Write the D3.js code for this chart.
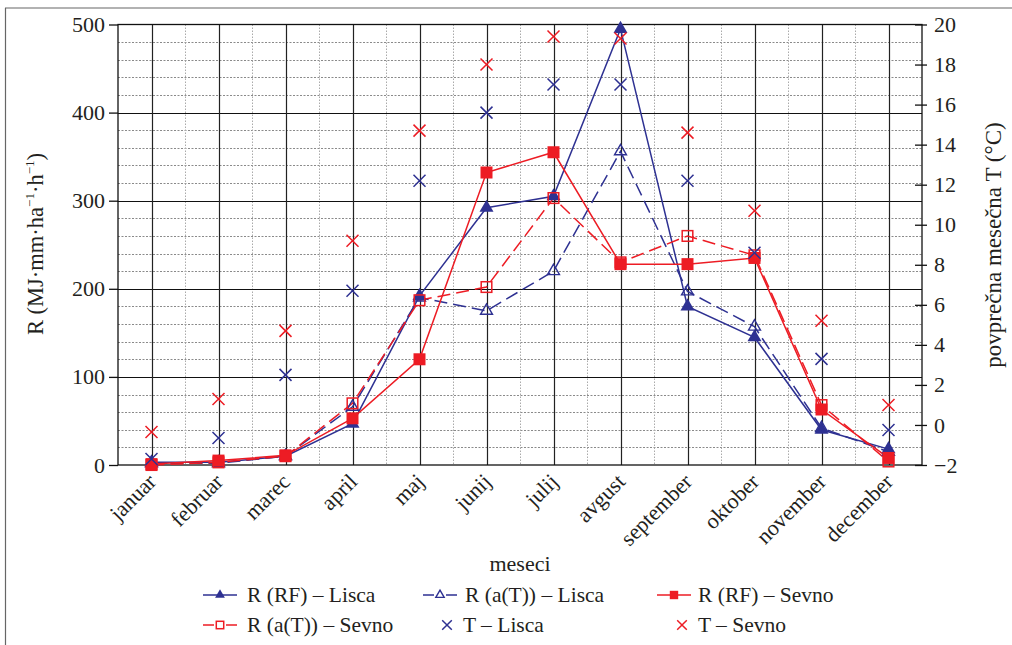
<!DOCTYPE html>
<html><head><meta charset="utf-8">
<script src="https://cdn.jsdelivr.net/npm/d3@7"></script>
<style>
body{margin:0;background:#fff}
svg{display:block}
</style>
</head><body>
<svg id="c" width="1012" height="645"></svg>
<script>
const months = ["januar","februar","marec","april","maj","junij","julij","avgust","september","oktober","november","december"];
const rfLisca = [3, 3, 10, 47, 192, 292, 305, 495, 180, 145, 40, 18];
const atLisca = [2, 2, 10, 66, 190, 175, 220, 356, 197, 157, 42, 15];
const rfSevno = [1, 5, 11, 53, 120, 332, 355, 228, 228, 235, 63, 8];
const atSevno = [0, 3, 10, 70, 187, 202, 303, 230, 260, 238, 68, 4];
const tLisca = [-1.7, -0.65, 2.5, 6.7, 12.2, 15.6, 17.0, 17.0, 12.2, 8.6, 3.3, -0.25];
const tSevno = [-0.35, 1.3, 4.7, 9.2, 14.7, 18.0, 19.4, 19.3, 14.6, 10.7, 5.2, 1.0];
const leftTicks = [0, 100, 200, 300, 400, 500];
const rightTicks = [-2, 0, 2, 4, 6, 8, 10, 12, 14, 16, 18, 20];

const BLUE = "#2e3192", RED = "#ed1c24", INK = "#231f20";
const FONT = '"Liberation Serif", serif';
const svg = d3.select("#c").attr("font-family", FONT);
const m = {l:118, r:922, t:24.5, b:465};
const x = d3.scaleBand().domain(months).range([m.l, m.r]);
const xc = d => x(d) + x.bandwidth()/2;
const yL = d3.scaleLinear().domain([0, 500]).range([m.b, m.t]);
const yR = d3.scaleLinear().domain([-2, 20]).range([m.b, m.t]);

// outer frame
svg.append("line").attr("x1",5.5).attr("x2",5.5).attr("y1",8).attr("y2",645).attr("stroke","#666").attr("stroke-width",1.2);
svg.append("line").attr("x1",5).attr("x2",1012).attr("y1",8).attr("y2",8).attr("stroke","#666").attr("stroke-width",1.2);

const g = svg.append("g");
const minorY = d3.range(20, 500, 20).filter(v => v % 100 !== 0);
g.selectAll(".mh").data(minorY).enter().append("line")
  .attr("x1", m.l).attr("x2", m.r).attr("y1", d => Math.round(yL(d))+0.5).attr("y2", d => Math.round(yL(d))+0.5)
  .attr("stroke","#8a8a8a").attr("stroke-width",1).attr("stroke-dasharray","2,1.5");
g.selectAll(".mv").data(months.slice(1)).enter().append("line")
  .attr("x1", d => Math.round(x(d))+0.5).attr("x2", d => Math.round(x(d))+0.5).attr("y1", m.t).attr("y2", m.b)
  .attr("stroke","#aaa").attr("stroke-width",1).attr("stroke-dasharray","1.5,1.5");
g.selectAll(".Mh").data(leftTicks.slice(1,-1)).enter().append("line")
  .attr("x1", m.l).attr("x2", m.r).attr("y1", d => Math.round(yL(d))+0.5).attr("y2", d => Math.round(yL(d))+0.5)
  .attr("stroke","#111").attr("stroke-width",1.2);
g.selectAll(".Mv").data(months).enter().append("line")
  .attr("x1", d => Math.round(xc(d))+0.5).attr("x2", d => Math.round(xc(d))+0.5).attr("y1", m.t).attr("y2", m.b)
  .attr("stroke","#222").attr("stroke-width",1.2);
g.append("rect").attr("x", m.l).attr("y", m.t).attr("width", m.r-m.l).attr("height", m.b-m.t)
  .attr("fill","none").attr("stroke","#111").attr("stroke-width",1.3);

const ax = svg.append("g").attr("transform",`translate(${m.l},0)`)
  .call(d3.axisLeft(yL).tickValues(leftTicks).tickSize(9).tickPadding(4));
ax.attr("font-family", FONT).attr("font-size", 22);
ax.select(".domain").remove();
ax.selectAll("line").attr("stroke","#111").attr("stroke-width",1.3);
ax.selectAll("text").attr("fill",INK);

const axr = svg.append("g").attr("transform",`translate(${m.r},0)`)
  .call(d3.axisRight(yR).tickValues(rightTicks).tickSize(5).tickPadding(7));
axr.attr("font-family", FONT).attr("font-size", 22);
axr.select(".domain").remove();
axr.selectAll("line").attr("x1",-7).attr("stroke","#111").attr("stroke-width",1.3);
axr.selectAll("text").attr("fill",INK);

svg.append("g").selectAll("text").data(months).enter().append("text")
  .attr("transform", d => `translate(${xc(d)+6},483) rotate(-45)`)
  .attr("text-anchor","end").attr("font-size",22).attr("fill",INK).text(d => d);

const lt = svg.append("text").attr("transform","translate(43,244) rotate(-90)").attr("text-anchor","middle")
  .attr("font-size",22.5).attr("fill",INK);
lt.append("tspan").text("R (MJ·mm·ha");
lt.append("tspan").attr("dy",-9).attr("font-size",13).text("−1");
lt.append("tspan").attr("dy",9).text("·h");
lt.append("tspan").attr("dy",-9).attr("font-size",13).text("−1");
lt.append("tspan").attr("dy",9).text(")");
svg.append("text").attr("transform","translate(1001,245) rotate(-90)").attr("text-anchor","middle")
  .attr("font-size",23).attr("fill",INK).text("povprečna mesečna T (°C)");
svg.append("text").attr("x",520).attr("y",571).attr("text-anchor","middle")
  .attr("font-size",22).attr("fill",INK).text("meseci");

function marker(sel, type, color, s) {
  s = s || 1;
  if (type === "tri") {
    sel.append("path").attr("d", d3.symbol().type(d3.symbolTriangle).size(85*s*s)()).attr("fill", color);
  } else if (type === "otri") {
    sel.append("path").attr("d", d3.symbol().type(d3.symbolTriangle).size(62*s*s)()).attr("fill","none").attr("stroke",color).attr("stroke-width",1.4);
  } else if (type === "sq") {
    const h = 6*s; sel.append("rect").attr("x",-h).attr("y",-h).attr("width",2*h).attr("height",2*h).attr("fill",color);
  } else if (type === "osq") {
    const h = 5.3*s; sel.append("rect").attr("x",-h).attr("y",-h).attr("width",2*h).attr("height",2*h).attr("fill","none").attr("stroke",color).attr("stroke-width",1.5);
  } else if (type === "x") {
    const h = 6*s; sel.append("path").attr("d",`M${-h},${-h}L${h},${h}M${-h},${h}L${h},${-h}`).attr("stroke",color).attr("stroke-width",1.5).attr("fill","none");
  }
}

const series = [
  {vals: rfLisca, y: yL, color: BLUE, dash: null, mk: "tri", line: true},
  {vals: atLisca, y: yL, color: BLUE, dash: "13,6", mk: "otri", line: true},
  {vals: rfSevno, y: yL, color: RED, dash: null, mk: "sq", line: true},
  {vals: atSevno, y: yL, color: RED, dash: "13,6", mk: "osq", line: true},
  {vals: tLisca, y: yR, color: BLUE, mk: "x", line: false},
  {vals: tSevno, y: yR, color: RED, mk: "x", line: false}
];
const plot = svg.append("g");
series.forEach(s => {
  const pts = months.map((mo, i) => [xc(mo), s.y(s.vals[i])]);
  if (s.line) {
    plot.append("path").attr("d", d3.line()(pts)).attr("fill","none").attr("stroke", s.color)
      .attr("stroke-width",1.5).attr("stroke-dasharray", s.dash);
  }
});
series.forEach(s => {
  months.forEach((mo, i) => {
    const gg = plot.append("g").attr("transform",`translate(${xc(mo)},${s.y(s.vals[i])})`);
    marker(gg, s.mk, s.color);
  });
});

const legend = [
  {label:"R (RF) – Lisca", color: BLUE, mk:"tri", dash:null, line:true, sx:203, tx:247, y:595},
  {label:"R (a(T)) – Lisca", color: BLUE, mk:"otri", dash:"9,4", line:true, sx:423, tx:465, y:595},
  {label:"R (RF) – Sevno", color: RED, mk:"sq", dash:null, line:true, sx:657, tx:698, y:595},
  {label:"R (a(T)) – Sevno", color: RED, mk:"osq", dash:"9,4", line:true, sx:203, tx:247, y:625},
  {label:"T – Lisca", color: BLUE, mk:"x", line:false, sx:447, tx:463, y:625},
  {label:"T – Sevno", color: RED, mk:"x", line:false, sx:682, tx:698, y:625}
];
legend.forEach(l => {
  const lg = svg.append("g");
  if (l.line) {
    lg.append("line").attr("x1", l.sx).attr("x2", l.sx+34).attr("y1", l.y).attr("y2", l.y)
      .attr("stroke", l.color).attr("stroke-width",1.5).attr("stroke-dasharray", l.dash ? "11,12,11" : null);
    marker(lg.append("g").attr("transform",`translate(${l.sx+17},${l.y})`), l.mk, l.color, 0.7);
  } else {
    marker(lg.append("g").attr("transform",`translate(${l.sx},${l.y})`), l.mk, l.color, 0.8);
  }
  lg.append("text").attr("x", l.tx).attr("y", l.y+7).attr("font-size",21.5).attr("fill",INK).text(l.label);
});
</script>
</body></html>
